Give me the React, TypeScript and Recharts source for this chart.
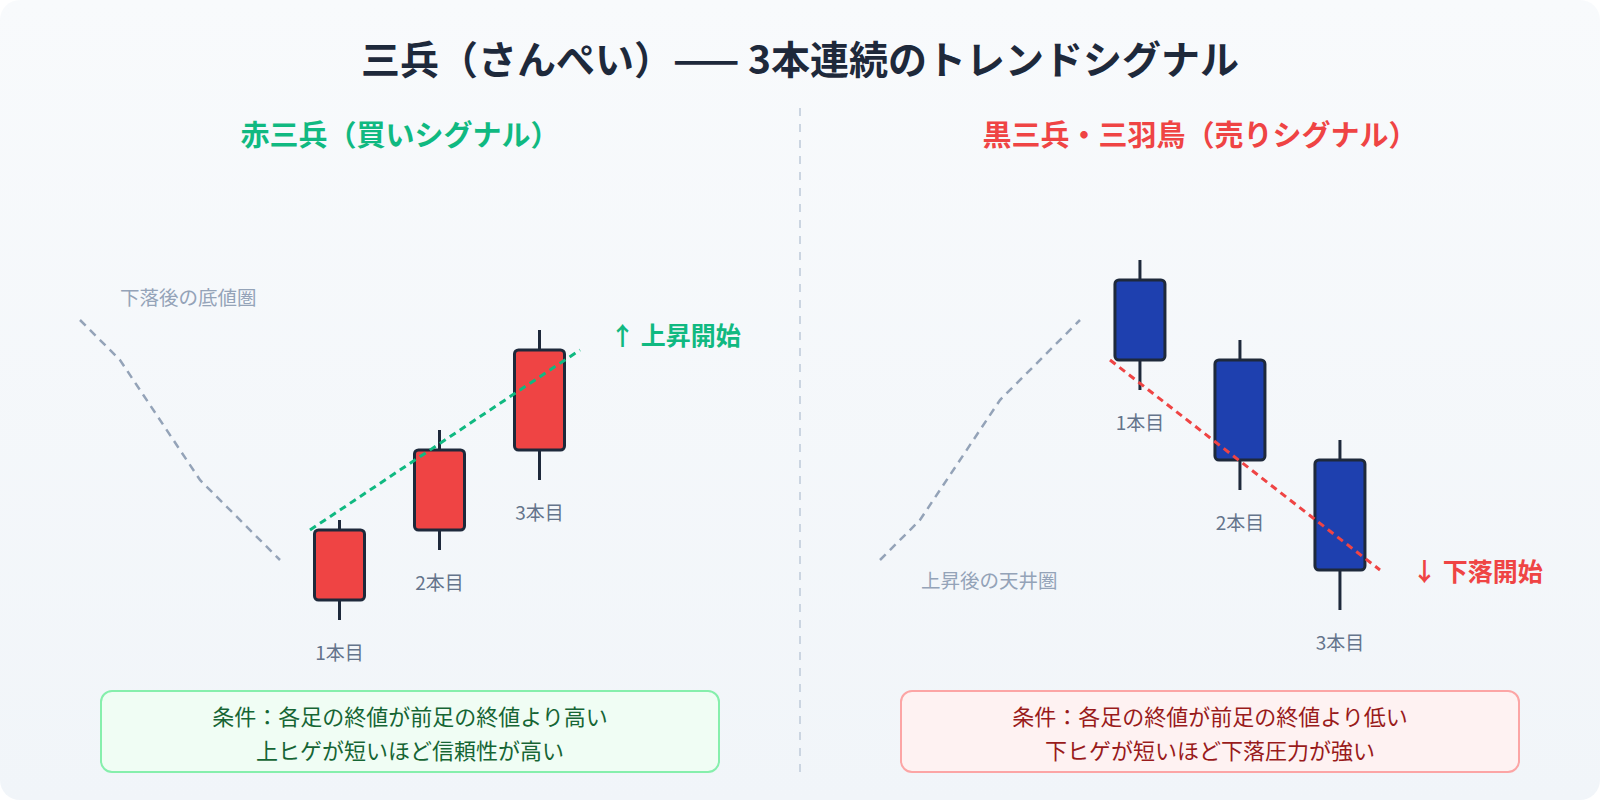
import React from 'react';
import { ComposedChart, Bar, Line, Scatter, XAxis, YAxis } from 'recharts';

// candle positions and labels (shared by both panels)
const CANDLE_X = [1, 2, 3];
const CANDLE_LABELS = ['1本目', '2本目', '3本目'];

// 赤三兵 (rising)
const RED_OPEN = [10, 17, 25];
const RED_CLOSE = [17, 25, 35];
const RED_HIGH = [18, 27, 37];
const RED_LOW = [8, 15, 22];

// 黒三兵 (falling)
const BLACK_OPEN = [42, 34, 24];
const BLACK_CLOSE = [34, 24, 13];
const BLACK_HIGH = [44, 36, 26];
const BLACK_LOW = [31, 21, 9];

// price path before the pattern
const PRIOR_X = [-1.6, -1.2, -0.4, 0.4];
const PRIOR_DOWN = [38, 34, 22, 14];
const PRIOR_UP = [14, 18, 30, 38];

// trend lines through the closes
const TREND_X = [0.7, 3.4];
const TREND_UP = [17, 35];
const TREND_DOWN = [34, 13];

// annotations
const BUY_NOTES = ['下落後の底値圏', '↑ 上昇開始'];
const BUY_NOTE_X = [-1.2, 3.7];
const BUY_NOTE_Y = [40.4, 36.6];
const SELL_NOTES = ['上昇後の天井圏', '↓ 下落開始'];
const SELL_NOTE_X = [-1.19, 3.72];
const SELL_NOTE_Y = [12.1, 13];

const FONT = '"Noto Sans CJK JP", "Noto Sans", sans-serif';
const BODY_W = 50;

const makeCandles = (open: number[], close: number[], high: number[], low: number[]) =>
  CANDLE_X.map((x, i) => ({ x, open: open[i], close: close[i], high: high[i], low: low[i], label: CANDLE_LABELS[i] }));

const makeLine = (xs: number[], ys: number[]) => xs.map((x, i) => ({ x, y: ys[i] }));

const makeNotes = (texts: string[], xs: number[], ys: number[]) =>
  texts.map((text, i) => ({ x: xs[i], y: ys[i], text, kind: i === 0 ? 'zone' : 'signal' }));

function makeCandleShape(fill: string) {
  return (props: any) => {
    const { x, y, width, height } = props;
    const d = props.payload ?? props;
    const top = Math.min(y, y + height);
    const h = Math.abs(height);
    const k = h / (d.high - d.low);
    const yOf = (v: number) => top + (d.high - v) * k;
    const cx = x + width / 2;
    const bodyTop = yOf(Math.max(d.open, d.close));
    const bodyBottom = yOf(Math.min(d.open, d.close));
    return (
      <g>
        <line x1={cx} x2={cx} y1={yOf(d.high)} y2={yOf(d.low)} stroke="#1e293b" strokeWidth={3} />
        <rect
          x={cx - BODY_W / 2}
          y={bodyTop}
          width={BODY_W}
          height={bodyBottom - bodyTop}
          rx={4}
          fill={fill}
          stroke="#1e293b"
          strokeWidth={3}
        />
        <text
          x={cx}
          y={yOf(d.low) + 31}
          textAnchor="middle"
          dominantBaseline="central"
          fontSize={19}
          fill="#64748b"
          fontFamily={FONT}
        >
          {d.label}
        </text>
      </g>
    );
  };
}

function makeNoteShape(signalColor: string) {
  return (props: any) => {
    const { cx, cy } = props;
    const d = props.payload ?? props;
    const signal = d.kind === 'signal';
    return (
      <text
        x={cx}
        y={cy}
        dominantBaseline="central"
        fontSize={signal ? 25 : 19.5}
        fontWeight={signal ? 700 : 400}
        fill={signal ? signalColor : '#94a3b8'}
        fontFamily={FONT}
      >
        {d.text}
      </text>
    );
  };
}

interface PanelProps {
  left: number;
  candles: ReturnType<typeof makeCandles>;
  prior: { x: number; y: number }[];
  trend: { x: number; y: number }[];
  notes: ReturnType<typeof makeNotes>;
  bodyColor: string;
  trendColor: string;
}

function Panel({ left, candles, prior, trend, notes, bodyColor, trendColor }: PanelProps) {
  return (
    <div style={{ position: 'absolute', left, top: 100 }}>
      <ComposedChart width={800} height={600} data={candles} margin={{ top: 0, right: 0, bottom: 0, left: 0 }}>
        <XAxis hide type="number" dataKey="x" domain={[-2.4, 5.6]} allowDataOverflow />
        <YAxis hide type="number" dataKey="y" domain={[0, 60]} allowDataOverflow />
        <Line
          data={prior}
          dataKey="y"
          type="linear"
          stroke="#94a3b8"
          strokeWidth={2.5}
          strokeDasharray="8 6"
          dot={false}
          activeDot={false}
          isAnimationActive={false}
        />
        <Bar
          dataKey={(d: any) => [d.low, d.high]}
          barSize={BODY_W}
          shape={makeCandleShape(bodyColor)}
          isAnimationActive={false}
        />
        <Line
          data={trend}
          dataKey="y"
          type="linear"
          stroke={trendColor}
          strokeWidth={3}
          strokeDasharray="7 5"
          dot={false}
          activeDot={false}
          isAnimationActive={false}
        />
        <Scatter data={notes} dataKey="y" shape={makeNoteShape(trendColor)} isAnimationActive={false} />
      </ComposedChart>
    </div>
  );
}

function ConditionBox({ left, lines, bg, border, color }: { left: number; lines: string[]; bg: string; border: string; color: string }) {
  return (
    <div
      style={{
        position: 'absolute',
        left,
        top: 690,
        width: 620,
        height: 83,
        boxSizing: 'border-box',
        background: bg,
        border: `2px solid ${border}`,
        borderRadius: 12,
        display: 'flex',
        flexDirection: 'column',
        alignItems: 'center',
        justifyContent: 'center',
        color,
        fontSize: 22,
        lineHeight: '34px',
      }}
    >
      {lines.map((l) => (
        <div key={l}>{l}</div>
      ))}
    </div>
  );
}

export default function App() {
  return (
    <div style={{ position: 'absolute', left: 0, top: 0, width: 1600, height: 800, background: '#ffffff', fontFamily: FONT }}>
      <div
        style={{
          position: 'absolute',
          inset: 0,
          borderRadius: 20,
          background: 'linear-gradient(180deg, #f8fafc 0%, #f1f5f9 100%)',
        }}
      />
      <div
        style={{
          position: 'absolute',
          left: 0,
          top: 36,
          width: 1600,
          textAlign: 'center',
          fontSize: 39,
          fontWeight: 700,
          lineHeight: '42px',
          color: '#1e293b',
        }}
      >
        三兵（さんぺい）—— 3本連続のトレンドシグナル
      </div>
      <div style={{ position: 'absolute', left: 0, top: 115, width: 800, textAlign: 'center', fontSize: 29, fontWeight: 700, lineHeight: '36px', color: '#10b981' }}>
        赤三兵（買いシグナル）
      </div>
      <div style={{ position: 'absolute', left: 800, top: 115, width: 800, textAlign: 'center', fontSize: 29, fontWeight: 700, lineHeight: '36px', color: '#ef4444' }}>
        黒三兵・三羽鳥（売りシグナル）
      </div>
      <svg style={{ position: 'absolute', left: 0, top: 0 }} width={1600} height={800}>
        <line x1={800} x2={800} y1={108} y2={772} stroke="#cbd5e1" strokeWidth={2} strokeDasharray="8 8" />
      </svg>
      <Panel
        left={0}
        candles={makeCandles(RED_OPEN, RED_CLOSE, RED_HIGH, RED_LOW)}
        prior={makeLine(PRIOR_X, PRIOR_DOWN)}
        trend={makeLine(TREND_X, TREND_UP)}
        notes={makeNotes(BUY_NOTES, BUY_NOTE_X, BUY_NOTE_Y)}
        bodyColor="#ef4444"
        trendColor="#10b981"
      />
      <Panel
        left={800}
        candles={makeCandles(BLACK_OPEN, BLACK_CLOSE, BLACK_HIGH, BLACK_LOW)}
        prior={makeLine(PRIOR_X, PRIOR_UP)}
        trend={makeLine(TREND_X, TREND_DOWN)}
        notes={makeNotes(SELL_NOTES, SELL_NOTE_X, SELL_NOTE_Y)}
        bodyColor="#1e40af"
        trendColor="#ef4444"
      />
      <ConditionBox
        left={100}
        lines={['条件：各足の終値が前足の終値より高い', '上ヒゲが短いほど信頼性が高い']}
        bg="#f0fdf4"
        border="#86efac"
        color="#166534"
      />
      <ConditionBox
        left={900}
        lines={['条件：各足の終値が前足の終値より低い', '下ヒゲが短いほど下落圧力が強い']}
        bg="#fef2f2"
        border="#fca5a5"
        color="#991b1b"
      />
    </div>
  );
}
